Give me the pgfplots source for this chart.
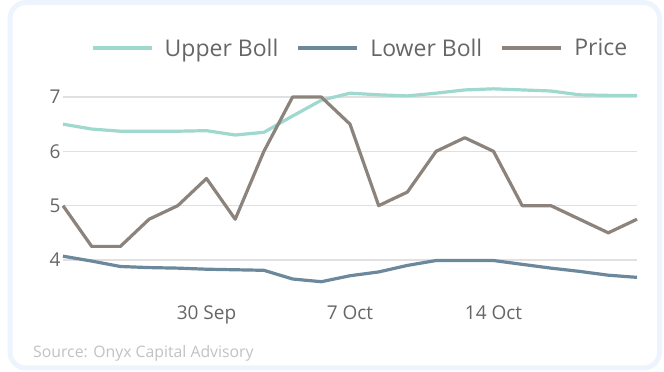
\documentclass[border=0pt]{standalone}
\usepackage{pgfplots}
\pgfplotsset{compat=1.18}
\usepackage{pgfplotstable}
\usepackage{fontspec}
\setmainfont{Open Sans}
\definecolor{upc}{HTML}{9FD8CF}
\definecolor{loc}{HTML}{6B889C}
\definecolor{prc}{HTML}{8C837C}
\definecolor{gridc}{HTML}{E0E0E0}
\definecolor{txt}{HTML}{666666}
\definecolor{srcc}{HTML}{C2C2C2}
\definecolor{bord}{HTML}{EEF4FE}
\pgfplotstableread{
idx upper lower price
0 6.50 4.07 5.00
1 6.41 3.98 4.25
2 6.37 3.88 4.25
3 6.37 3.86 4.75
4 6.37 3.85 5.00
5 6.38 3.83 5.50
6 6.30 3.82 4.75
7 6.35 3.81 6.00
8 6.65 3.65 7.00
9 6.94 3.60 7.00
10 7.07 3.71 6.50
11 7.04 3.78 5.00
12 7.02 3.90 5.25
13 7.07 3.99 6.00
14 7.13 3.99 6.25
15 7.15 3.99 6.00
16 7.13 3.92 5.00
17 7.11 3.85 5.00
18 7.04 3.79 4.75
19 7.03 3.72 4.50
20 7.03 3.68 4.75
}\datatab
\begin{document}
\begin{tikzpicture}
\useasboundingbox (0pt,0pt) rectangle (664pt,372pt);
\fill[white] (0pt,0pt) rectangle (664pt,372pt);
\draw[bord, line width=5pt, fill=white, rounded corners=16pt] (10pt,369.5pt) rectangle (659.5pt,4pt);
\begin{axis}[
  at={(63pt,76.7pt)}, anchor=south west,
  scale only axis, width=574pt, height=211.9pt,
  xmin=0, xmax=20, ymin=3.35, ymax=7.25,
  axis line style={draw=none},
  ymajorgrids, grid style={gridc, line width=1.2pt},
  xtick={5,10,15}, xticklabels={30 Sep,7 Oct,14 Oct},
  ytick={4,5,6,7},
  major tick length=0pt,
  tick style={draw=none},
  tick label style={font=\fontsize{19}{21}\selectfont, text=txt},
  xticklabel style={yshift=-7pt},
  yticklabel style={xshift=1pt},
  /pgf/number format/assume math mode=true,
  clip=false,
  every axis plot/.append style={line width=3.2pt, line join=round, no markers},
  legend columns=3,
  legend style={at={(0.5174,1.167)}, anchor=center, draw=none, fill=none,
    font=\fontsize{23}{26}\selectfont, text=txt,
    /tikz/every odd column/.append style={column sep=9pt},
    /tikz/every even column/.append style={column sep=16pt}},
  legend image code/.code={\draw[#1, line width=4pt] (0pt,0pt) -- (59pt,0pt);},
]
\addplot[upc] table[x=idx, y=upper] {\datatab};
\addlegendentry{Upper Boll}
\addplot[loc] table[x=idx, y=lower] {\datatab};
\addlegendentry{Lower Boll}
\addplot[prc] table[x=idx, y=price] {\datatab};
\addlegendentry{Price}
\end{axis}
\node[anchor=west, text=srcc, font=\fontsize{15.8}{18}\selectfont, inner sep=0pt] at (33pt,19pt) {Source: Onyx Capital Advisory};
\end{tikzpicture}
\end{document}
